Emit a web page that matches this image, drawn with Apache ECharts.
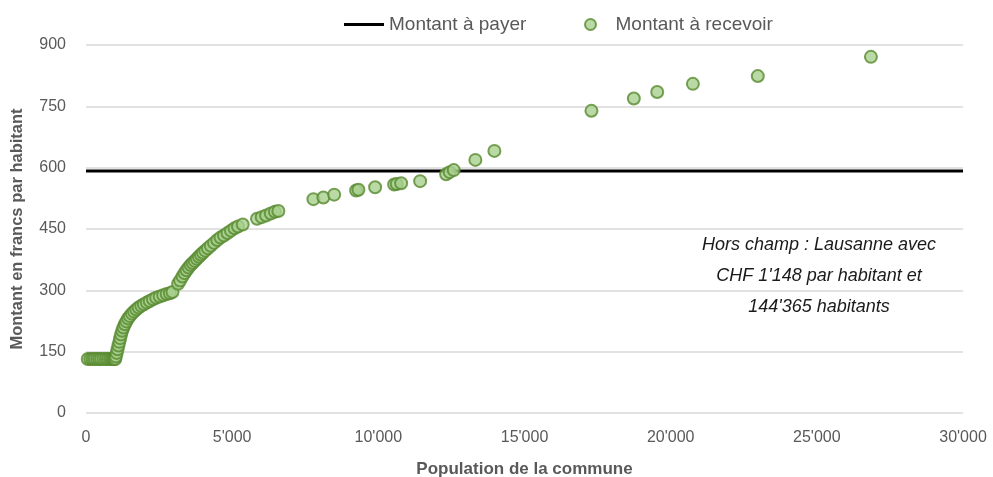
<!DOCTYPE html>
<html>
<head>
<meta charset="utf-8">
<script src="https://cdn.jsdelivr.net/npm/echarts@6/dist/echarts.min.js"></script>
<style>
  html, body { margin: 0; padding: 0; background: #fff; }
  #chart { width: 993px; height: 477px; }
</style>
</head>
<body>
<div id="chart"></div>
<script>
// Population de chaque commune (axe X)
const population = [
  60, 150, 230, 300, 380, 450, 520, 600, 680, 750, 820, 880, 930, 970, 1000,
  1020, 1050, 1080, 1110, 1140, 1170, 1200, 1240, 1280, 1330, 1380, 1440, 1500,
  1570, 1640, 1720, 1800, 1890, 1980, 2080, 2180, 2290, 2400, 2520, 2640, 2760,
  2870, 2960, 3150, 3220, 3300, 3370, 3440, 3510, 3580, 3650, 3720, 3790, 3860,
  3930, 4000, 4080, 4170, 4270, 4380, 4490, 4600, 4720, 4840, 4960, 5080, 5200,
  5360, 5850, 6010, 6160, 6320, 6460, 6580, 7780, 8120, 8490, 9240, 9320, 9890,
  10540, 10630, 10780, 11430, 12320, 12440, 12580, 13320, 13970, 17290, 18740,
  19540, 20760, 22980, 26850
]
// Montant à recevoir par habitant (axe Y)
const recevoir = [
  132, 132, 132, 132, 132, 132, 132, 132, 132, 132, 132, 132, 132, 132, 132,
  138, 147, 156, 165, 174, 183, 192, 201, 209, 217, 224, 231, 237,
  243, 248, 253, 258, 262, 266, 270, 274, 278, 282, 285, 288, 291,
  293, 296, 316, 324, 334, 342, 349, 356, 362, 367, 372, 377, 382,
  387, 392, 397, 403, 409, 416, 423, 429, 434, 440, 446, 452, 456,
  461, 475, 479, 483, 488, 492, 494, 523, 527, 534, 544, 546, 552,
  559, 560, 562, 567, 584, 589, 594, 619, 641, 739, 769,
  785, 805, 824, 871
]
// Montant à payer (constant)
const payerX = [0, 30000]
const payerY = [592, 592]

const xTicks = { min: 0, max: 30000, interval: 5000 }
const yTicks = { min: 0, max: 900, interval: 150 }

const fmt = v => String(v).replace(/\B(?=(\d{3})+(?!\d))/g, "'")

const chart = echarts.init(document.getElementById('chart'))
const font = "'Liberation Sans', Arial, sans-serif"

const option = {
  animation: false,
  textStyle: { fontFamily: font },
  grid: { left: 86, right: 30, top: 45, bottom: 64, outerBoundsMode: 'none', containLabel: false },
  legend: [
    {
      data: [{ name: 'Montant à payer', icon: 'rect' }],
      left: 339, top: 10,
      itemWidth: 40, itemHeight: 3, itemGap: 5,
      textStyle: { fontSize: 19, color: '#595959', fontFamily: font }
    },
    {
      data: [{ name: 'Montant à recevoir', icon: 'circle' }],
      left: 579, top: 10,
      itemWidth: 40, itemHeight: 11,
      textStyle: { fontSize: 19, color: '#595959', fontFamily: font }
    }
  ],
  xAxis: {
    type: 'value',
    min: xTicks.min, max: xTicks.max, interval: xTicks.interval,
    name: 'Population de la commune',
    nameLocation: 'middle',
    nameGap: 48,
    nameTextStyle: { fontSize: 17, fontWeight: 'bold', color: '#595959' },
    axisLine: { show: false },
    axisTick: { show: false },
    splitLine: { show: false },
    axisLabel: { fontSize: 16, color: '#595959', margin: 17, formatter: fmt }
  },
  yAxis: {
    type: 'value',
    min: yTicks.min, max: yTicks.max, interval: yTicks.interval,
    name: 'Montant en francs par habitant',
    nameLocation: 'middle',
    nameGap: 60,
    nameTextStyle: { fontSize: 16.5, fontWeight: 'bold', color: '#595959' },
    axisLine: { show: false },
    axisTick: { show: false },
    splitLine: { lineStyle: { color: '#d9d9d9', width: 1.5 } },
    axisLabel: { fontSize: 16, color: '#595959', margin: 20 }
  },
  graphic: [
    {
      type: 'text',
      x: 819, y: 229,
      style: {
        text: "Hors champ : Lausanne avec\nCHF 1'148 par habitant et\n144'365 habitants",
        align: 'center',
        font: 'italic 18px ' + font,
        lineHeight: 31,
        fill: '#1a1a1a'
      }
    }
  ],
  series: [
    {
      name: 'Montant à payer',
      type: 'line',
      symbol: 'none',
      data: payerX.map((x, i) => [x, payerY[i]]),
      lineStyle: { color: '#000', width: 3 },
      itemStyle: { color: '#000' },
      z: 2
    },
    {
      name: 'Montant à recevoir',
      type: 'scatter',
      symbolSize: 12,
      data: population.map((x, i) => [x, recevoir[i]]),
      itemStyle: { color: '#a9d18e', borderColor: '#578a30', borderWidth: 2 },
      z: 3
    }
  ]
}

chart.setOption(option)
</script>
</body>
</html>
